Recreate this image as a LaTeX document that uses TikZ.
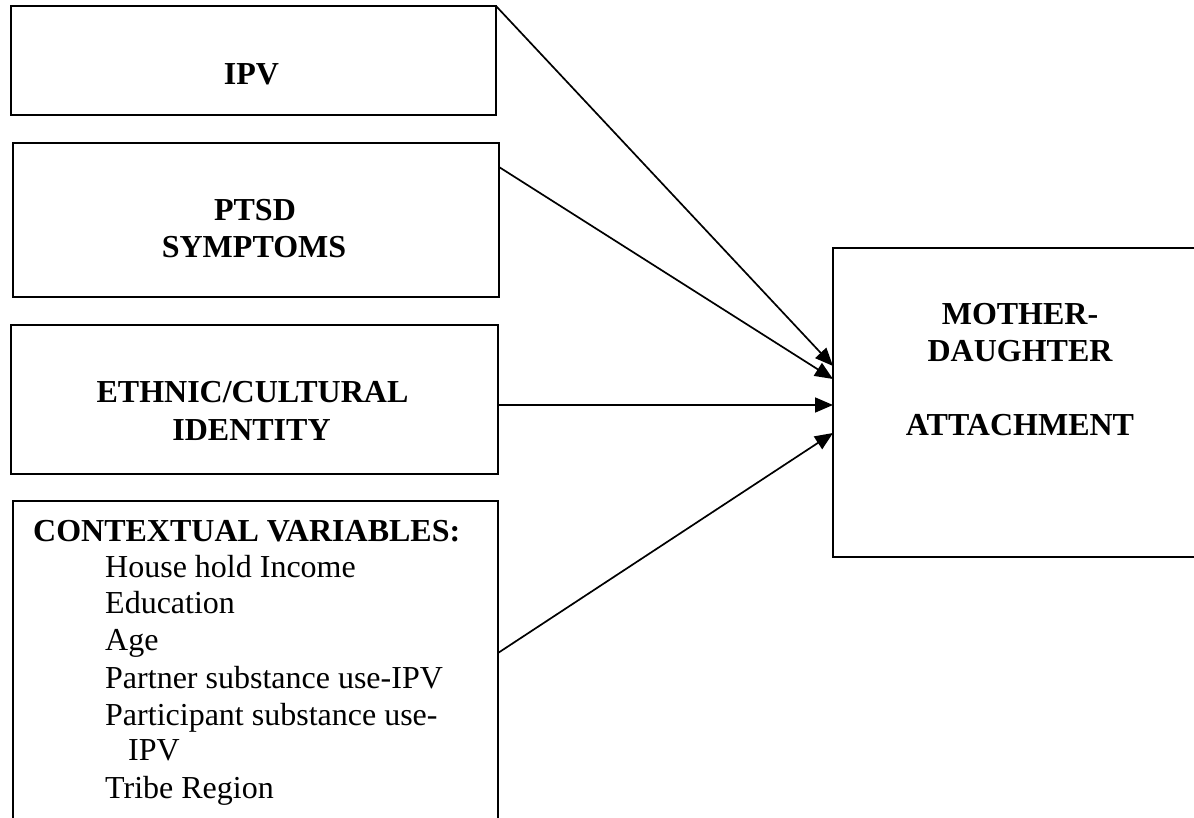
\documentclass[tikz,border=0pt]{standalone}
\usepackage{fontspec}
\setmainfont{Liberation Serif}
\usetikzlibrary{arrows.meta,calc}
\begin{document}
\begin{tikzpicture}[x=1pt,y=1pt,
  box/.style={draw=black, line width=1.7pt, rectangle, inner sep=0pt, outer sep=0pt, anchor=north west},
  lbl/.style={font=\fontsize{32}{37}\selectfont\bfseries, inner sep=0pt, anchor=base},
  item/.style={font=\fontsize{32}{37}\selectfont, inner sep=0pt, anchor=base west},
  link/.style={line width=1.7pt, -{Triangle[length=18pt,width=15pt]}}]
\clip (0,0) rectangle (1194,-818);
\fill[white] (0,0) rectangle (1194,-818);
% boxes
\node[box, minimum width=485, minimum height=109] (ipv) at (11,-6) {};
\node[box, minimum width=486, minimum height=154] (ptsd) at (13,-143) {};
\node[box, minimum width=487, minimum height=149] (eth) at (11,-325) {};
\node[box, minimum width=485, minimum height=340] (ctx) at (13,-501) {};
\node[box, minimum width=374, minimum height=309] (mom) at (833,-248) {};
% texts
\node[lbl] (tipv) at (251.5,-85) {IPV};
\node[lbl] (tptsda) at (255,-221) {PTSD};
\node[lbl] (tptsdb) at (254,-258) {SYMPTOMS};
\node[lbl] (tetha) at (252.5,-402) {ETHNIC/CULTURAL};
\node[lbl] (tethb) at (251.5,-440) {IDENTITY};
\node[lbl] (tmoma) at (1020,-325) {MOTHER-};
\node[lbl] (tmomb) at (1020,-361) {DAUGHTER};
\node[lbl] (tmomc) at (1020,-435) {ATTACHMENT};
\node[lbl, anchor=base west] (tctx) at (33,-541) {CONTEXTUAL VARIABLES:};
\node[item] (ca) at (105,-577) {House hold Income};
\node[item] (cb) at (105,-613) {Education};
\node[item] (cc) at (105,-650) {Age};
\node[item] (cd) at (105,-688) {Partner substance use-IPV};
\node[item] (ce) at (105,-725) {Participant substance use-};
\node[item] (cf) at (128,-760) {IPV};
\node[item] (cg) at (105,-798) {Tribe Region};
% connectors
\draw[link] (ipv.north east) -- ($(mom.north west)+(0,-118)$);
\draw[link] ($(ptsd.north east)+(0,-24)$) -- ($(mom.north west)+(0,-131)$);
\draw[link] ($(eth.north east)+(0,-80)$) -- ($(mom.north west)+(0,-157)$);
\draw[link] ($(ctx.north east)+(0,-152)$) -- ($(mom.north west)+(0,-185)$);
\end{tikzpicture}
\end{document}
